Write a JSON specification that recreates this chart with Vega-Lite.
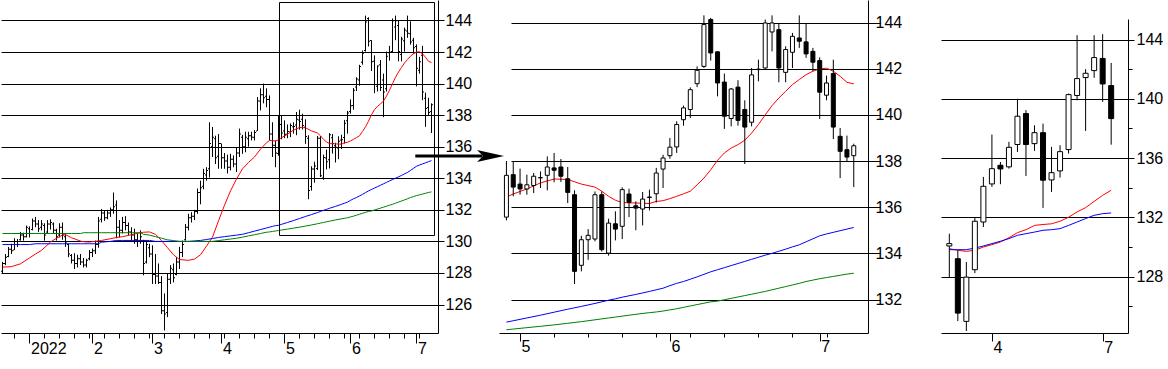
{
"$schema": "https://vega.github.io/schema/vega-lite/v6.json",
"padding": 0,
"background": "white",
"bounds": "flush",
"spacing": 61,
"config": {"view": {"stroke": null}, "axis": {"labelFont": "Liberation Sans", "labelFontSize": 16, "labelColor": "black", "domainColor": "black", "tickColor": "black", "gridColor": "black", "domainWidth": 1, "tickWidth": 1, "gridWidth": 1, "labelOverlap": false, "labelFlush": false, "labelBound": false, "tickCount": 500}},
"datasets": {
"daily": [
{"n":1,"d":"2021-12-21","o":128.1,"h":128.7,"l":127.95,"c":128.6},
{"n":2,"d":"2021-12-22","o":128.6,"h":129.2,"l":128.5,"c":129.0},
{"n":3,"d":"2021-12-23","o":129.05,"h":129.65,"l":129.0,"c":129.5},
{"n":4,"d":"2021-12-24","o":129.5,"h":129.85,"l":129.2,"c":129.4},
{"n":5,"d":"2021-12-27","o":129.45,"h":130.2,"l":129.45,"c":130.0},
{"n":6,"d":"2021-12-28","o":130.0,"h":130.15,"l":129.65,"c":129.8},
{"n":7,"d":"2021-12-29","o":130.1,"h":130.6,"l":130.05,"c":130.4},
{"n":8,"d":"2021-12-30","o":130.4,"h":130.55,"l":130.05,"c":130.3},
{"n":9,"d":"2021-12-31","o":130.3,"h":131.0,"l":130.25,"c":130.9},
{"n":10,"d":"2022-01-03","o":130.8,"h":130.95,"l":130.25,"c":130.5},
{"n":11,"d":"2022-01-04","o":130.75,"h":131.45,"l":130.7,"c":131.3},
{"n":12,"d":"2022-01-05","o":131.3,"h":131.55,"l":130.9,"c":131.1},
{"n":13,"d":"2022-01-06","o":131.1,"h":131.35,"l":130.6,"c":130.8},
{"n":14,"d":"2022-01-07","o":130.9,"h":131.35,"l":130.7,"c":131.1},
{"n":15,"d":"2022-01-10","o":131.0,"h":131.15,"l":130.05,"c":130.4},
{"n":16,"d":"2022-01-11","o":130.6,"h":131.35,"l":130.5,"c":131.1},
{"n":17,"d":"2022-01-12","o":131.1,"h":131.4,"l":130.75,"c":131.2},
{"n":18,"d":"2022-01-13","o":131.1,"h":131.2,"l":130.5,"c":130.7},
{"n":19,"d":"2022-01-14","o":130.7,"h":130.8,"l":130.05,"c":130.3},
{"n":20,"d":"2022-01-17","o":130.4,"h":131.15,"l":130.25,"c":130.9},
{"n":21,"d":"2022-01-18","o":130.9,"h":131.2,"l":130.1,"c":130.4},
{"n":22,"d":"2022-01-19","o":130.3,"h":130.5,"l":129.65,"c":129.9},
{"n":23,"d":"2022-01-20","o":129.8,"h":129.85,"l":129.0,"c":129.2},
{"n":24,"d":"2022-01-21","o":129.1,"h":129.2,"l":128.6,"c":128.8},
{"n":25,"d":"2022-01-24","o":128.8,"h":129.25,"l":128.25,"c":128.6},
{"n":26,"d":"2022-01-25","o":128.6,"h":129.15,"l":128.35,"c":128.9},
{"n":27,"d":"2022-01-26","o":128.9,"h":129.2,"l":128.5,"c":128.7},
{"n":28,"d":"2022-01-27","o":128.7,"h":128.95,"l":128.35,"c":128.5},
{"n":29,"d":"2022-01-28","o":128.5,"h":128.9,"l":128.35,"c":128.8},
{"n":30,"d":"2022-01-31","o":128.9,"h":129.45,"l":128.8,"c":129.3},
{"n":31,"d":"2022-02-01","o":129.3,"h":129.55,"l":129.0,"c":129.4},
{"n":32,"d":"2022-02-02","o":129.4,"h":130.05,"l":129.2,"c":129.8},
{"n":33,"d":"2022-02-03","o":129.8,"h":131.55,"l":129.6,"c":131.3},
{"n":34,"d":"2022-02-04","o":131.4,"h":132.05,"l":131.2,"c":131.8},
{"n":35,"d":"2022-02-07","o":131.8,"h":131.95,"l":131.3,"c":131.5},
{"n":36,"d":"2022-02-08","o":131.5,"h":132.0,"l":131.4,"c":131.8},
{"n":37,"d":"2022-02-09","o":131.8,"h":132.15,"l":131.55,"c":132.0},
{"n":38,"d":"2022-02-10","o":132.0,"h":133.1,"l":131.75,"c":132.2},
{"n":39,"d":"2022-02-11","o":132.3,"h":132.6,"l":130.2,"c":130.9},
{"n":40,"d":"2022-02-14","o":130.9,"h":131.35,"l":130.25,"c":130.7},
{"n":41,"d":"2022-02-15","o":130.7,"h":131.55,"l":130.5,"c":131.2},
{"n":42,"d":"2022-02-16","o":131.2,"h":131.6,"l":130.7,"c":131.0},
{"n":43,"d":"2022-02-17","o":131.0,"h":131.2,"l":130.4,"c":130.6},
{"n":44,"d":"2022-02-18","o":130.6,"h":130.9,"l":130.05,"c":130.4},
{"n":45,"d":"2022-02-21","o":130.4,"h":130.8,"l":129.85,"c":130.1},
{"n":46,"d":"2022-02-22","o":130.1,"h":130.5,"l":129.65,"c":130.0},
{"n":47,"d":"2022-02-23","o":130.0,"h":130.7,"l":129.85,"c":130.3},
{"n":48,"d":"2022-02-24","o":130.0,"h":130.1,"l":127.85,"c":128.6},
{"n":49,"d":"2022-02-25","o":128.7,"h":130.05,"l":128.6,"c":129.8},
{"n":50,"d":"2022-02-28","o":129.6,"h":129.85,"l":129.0,"c":129.2},
{"n":51,"d":"2022-03-01","o":129.2,"h":129.75,"l":127.3,"c":127.9},
{"n":52,"d":"2022-03-02","o":127.9,"h":129.2,"l":127.3,"c":127.8},
{"n":53,"d":"2022-03-03","o":127.8,"h":128.6,"l":127.3,"c":127.4},
{"n":54,"d":"2022-03-04","o":127.4,"h":127.8,"l":125.4,"c":125.6},
{"n":55,"d":"2022-03-07","o":125.6,"h":126.7,"l":124.35,"c":125.4},
{"n":56,"d":"2022-03-08","o":125.5,"h":127.95,"l":125.2,"c":127.6},
{"n":57,"d":"2022-03-09","o":127.6,"h":128.5,"l":127.3,"c":128.3},
{"n":58,"d":"2022-03-10","o":128.2,"h":128.6,"l":127.4,"c":127.7},
{"n":59,"d":"2022-03-11","o":127.9,"h":129.0,"l":127.85,"c":128.7},
{"n":60,"d":"2022-03-14","o":128.7,"h":129.65,"l":128.25,"c":129.3},
{"n":61,"d":"2022-03-15","o":129.3,"h":130.05,"l":129.0,"c":129.8},
{"n":62,"d":"2022-03-16","o":130.1,"h":131.1,"l":130.05,"c":130.9},
{"n":63,"d":"2022-03-17","o":130.9,"h":131.75,"l":130.7,"c":131.5},
{"n":64,"d":"2022-03-18","o":131.5,"h":131.85,"l":131.2,"c":131.6},
{"n":65,"d":"2022-03-21","o":131.6,"h":132.0,"l":131.35,"c":131.9},
{"n":66,"d":"2022-03-22","o":131.9,"h":133.35,"l":131.75,"c":133.1},
{"n":67,"d":"2022-03-23","o":133.1,"h":133.85,"l":132.35,"c":133.4},
{"n":68,"d":"2022-03-24","o":133.5,"h":134.6,"l":133.3,"c":134.3},
{"n":69,"d":"2022-03-25","o":134.2,"h":134.7,"l":133.85,"c":134.5},
{"n":70,"d":"2022-03-28","o":134.6,"h":137.55,"l":134.05,"c":136.2},
{"n":71,"d":"2022-03-29","o":136.0,"h":137.25,"l":135.35,"c":136.6},
{"n":72,"d":"2022-03-30","o":136.5,"h":136.7,"l":134.9,"c":135.3},
{"n":73,"d":"2022-03-31","o":135.4,"h":136.8,"l":134.6,"c":136.2},
{"n":74,"d":"2022-04-01","o":136.2,"h":136.2,"l":134.6,"c":135.3},
{"n":75,"d":"2022-04-04","o":135.3,"h":135.6,"l":134.6,"c":135.1},
{"n":76,"d":"2022-04-05","o":135.1,"h":135.5,"l":134.3,"c":134.7},
{"n":77,"d":"2022-04-06","o":134.7,"h":135.55,"l":134.5,"c":135.2},
{"n":78,"d":"2022-04-07","o":135.2,"h":135.45,"l":134.7,"c":134.9},
{"n":79,"d":"2022-04-08","o":134.9,"h":135.95,"l":134.4,"c":135.6},
{"n":80,"d":"2022-04-11","o":135.6,"h":137.15,"l":135.35,"c":136.8},
{"n":81,"d":"2022-04-12","o":136.6,"h":136.75,"l":135.55,"c":136.0},
{"n":82,"d":"2022-04-13","o":136.0,"h":136.95,"l":135.65,"c":136.6},
{"n":83,"d":"2022-04-14","o":136.5,"h":136.95,"l":136.0,"c":136.7},
{"n":84,"d":"2022-04-15","o":136.7,"h":136.95,"l":136.4,"c":136.6},
{"n":85,"d":"2022-04-18","o":136.6,"h":137.05,"l":136.4,"c":136.9},
{"n":86,"d":"2022-04-19","o":137.0,"h":139.15,"l":137.0,"c":138.9},
{"n":87,"d":"2022-04-20","o":138.9,"h":139.7,"l":138.3,"c":139.3},
{"n":88,"d":"2022-04-21","o":139.3,"h":140.0,"l":138.75,"c":139.1},
{"n":89,"d":"2022-04-22","o":139.2,"h":139.7,"l":138.5,"c":139.0},
{"n":90,"d":"2022-04-25","o":139.0,"h":139.25,"l":136.4,"c":136.8},
{"n":91,"d":"2022-04-26","o":136.8,"h":137.55,"l":135.35,"c":136.1},
{"n":92,"d":"2022-04-27","o":136.1,"h":136.4,"l":134.7,"c":135.6},
{"n":93,"d":"2022-04-28","o":135.57,"h":138.0,"l":135.43,"c":137.38},
{"n":94,"d":"2022-04-29","o":137.41,"h":138.0,"l":136.47,"c":136.87},
{"n":95,"d":"2022-05-02","o":137.0,"h":137.67,"l":136.54,"c":136.79},
{"n":96,"d":"2022-05-03","o":136.79,"h":137.41,"l":136.54,"c":136.97},
{"n":97,"d":"2022-05-04","o":136.94,"h":137.48,"l":136.61,"c":137.34},
{"n":98,"d":"2022-05-05","o":137.27,"h":137.55,"l":136.83,"c":137.28},
{"n":99,"d":"2022-05-06","o":137.38,"h":138.2,"l":136.73,"c":137.74},
{"n":100,"d":"2022-05-09","o":137.7,"h":138.35,"l":137.08,"c":137.6},
{"n":101,"d":"2022-05-10","o":137.74,"h":138.09,"l":137.09,"c":137.34},
{"n":102,"d":"2022-05-11","o":137.23,"h":137.74,"l":136.18,"c":136.64},
{"n":103,"d":"2022-05-12","o":136.54,"h":136.73,"l":132.67,"c":133.22},
{"n":104,"d":"2022-05-13","o":133.48,"h":134.76,"l":133.22,"c":134.59},
{"n":105,"d":"2022-05-16","o":134.59,"h":135.05,"l":133.72,"c":134.78},
{"n":106,"d":"2022-05-17","o":134.62,"h":136.68,"l":134.52,"c":136.54},
{"n":107,"d":"2022-05-18","o":136.54,"h":136.68,"l":134.08,"c":134.16},
{"n":108,"d":"2022-05-19","o":134.01,"h":135.5,"l":133.9,"c":135.31},
{"n":109,"d":"2022-05-20","o":135.28,"h":135.82,"l":134.56,"c":135.05},
{"n":110,"d":"2022-05-23","o":135.17,"h":136.86,"l":134.62,"c":136.76},
{"n":111,"d":"2022-05-24","o":136.57,"h":136.8,"l":135.57,"c":136.21},
{"n":112,"d":"2022-05-25","o":136.06,"h":136.25,"l":135.0,"c":135.96},
{"n":113,"d":"2022-05-26","o":135.92,"h":136.66,"l":135.21,"c":136.35},
{"n":114,"d":"2022-05-27","o":136.42,"h":136.76,"l":135.86,"c":136.44},
{"n":115,"d":"2022-05-30","o":136.58,"h":137.7,"l":136.2,"c":137.48},
{"n":116,"d":"2022-05-31","o":137.65,"h":138.27,"l":136.83,"c":138.13},
{"n":117,"d":"2022-06-01","o":138.23,"h":139.0,"l":138.1,"c":138.6},
{"n":118,"d":"2022-06-02","o":138.61,"h":139.72,"l":138.35,"c":139.58},
{"n":119,"d":"2022-06-03","o":139.79,"h":140.4,"l":139.53,"c":140.3},
{"n":120,"d":"2022-06-06","o":140.23,"h":141.19,"l":139.86,"c":141.09},
{"n":121,"d":"2022-06-07","o":141.35,"h":142.1,"l":141.2,"c":141.93},
{"n":122,"d":"2022-06-08","o":142.1,"h":144.31,"l":142.03,"c":143.91},
{"n":123,"d":"2022-06-09","o":144.13,"h":144.2,"l":142.35,"c":142.68},
{"n":124,"d":"2022-06-10","o":142.73,"h":142.75,"l":140.8,"c":141.38},
{"n":125,"d":"2022-06-13","o":141.42,"h":141.79,"l":139.39,"c":139.94},
{"n":126,"d":"2022-06-14","o":139.84,"h":141.16,"l":139.5,"c":141.12},
{"n":127,"d":"2022-06-15","o":141.2,"h":141.5,"l":139.53,"c":139.76},
{"n":128,"d":"2022-06-16","o":140.23,"h":140.63,"l":137.87,"c":139.47},
{"n":129,"d":"2022-06-17","o":139.68,"h":142.03,"l":139.5,"c":141.73},
{"n":130,"d":"2022-06-20","o":141.96,"h":142.39,"l":141.45,"c":141.98},
{"n":131,"d":"2022-06-21","o":142.03,"h":144.13,"l":141.96,"c":143.98},
{"n":132,"d":"2022-06-22","o":143.59,"h":144.31,"l":142.75,"c":143.98},
{"n":133,"d":"2022-06-23","o":143.69,"h":143.98,"l":141.41,"c":142.03},
{"n":134,"d":"2022-06-24","o":141.84,"h":142.97,"l":141.41,"c":142.83},
{"n":135,"d":"2022-06-27","o":142.71,"h":143.55,"l":142.03,"c":143.4},
{"n":136,"d":"2022-06-28","o":143.33,"h":144.31,"l":142.9,"c":143.19},
{"n":137,"d":"2022-06-29","o":143.16,"h":143.95,"l":142.47,"c":142.64},
{"n":138,"d":"2022-06-30","o":142.75,"h":142.9,"l":141.89,"c":142.28},
{"n":139,"d":"2022-07-01","o":142.35,"h":142.49,"l":139.82,"c":140.98},
{"n":140,"d":"2022-07-04","o":140.85,"h":141.7,"l":140.63,"c":141.38},
{"n":141,"d":"2022-07-05","o":141.79,"h":142.39,"l":138.95,"c":139.47},
{"n":142,"d":"2022-07-06","o":139.07,"h":139.43,"l":137.26,"c":138.42},
{"n":143,"d":"2022-07-07","o":138.49,"h":139.1,"l":137.99,"c":138.17},
{"n":144,"d":"2022-07-08","o":138.23,"h":138.75,"l":136.87,"c":138.66}
],
"ma": [
{"n":1,"r":128.37,"b":129.8,"g":130.5},
{"n":4,"r":128.4,"b":129.8,"g":130.5},
{"n":7,"r":128.58,"b":129.8,"g":130.5},
{"n":10,"r":128.95,"b":129.8,"g":130.5},
{"n":12,"r":129.2,"b":129.85,"g":130.5},
{"n":14,"r":129.43,"b":129.85,"g":130.5},
{"n":17,"r":129.96,"b":129.85,"g":130.5},
{"n":19,"r":130.2,"b":129.85,"g":130.5},
{"n":21,"r":130.4,"b":129.85,"g":130.5},
{"n":22,"r":130.43,"b":129.85,"g":130.5},
{"n":24,"r":130.23,"b":129.85,"g":130.5},
{"n":27,"r":130.02,"b":129.85,"g":130.5},
{"n":28,"r":129.98,"b":129.85,"g":130.55},
{"n":30,"r":129.96,"b":129.85,"g":130.55},
{"n":33,"r":130.03,"b":129.85,"g":130.55},
{"n":34,"r":130.06,"b":129.95,"g":130.55},
{"n":37,"r":130.17,"b":130.0,"g":130.55},
{"n":39,"r":130.25,"b":130.06,"g":130.55},
{"n":41,"r":130.3,"b":130.06,"g":130.55},
{"n":44,"r":130.42,"b":130.06,"g":130.55},
{"n":47,"r":130.55,"b":130.06,"g":130.55},
{"n":48,"r":130.58,"b":130.06,"g":130.45},
{"n":50,"r":130.6,"b":130.06,"g":130.4},
{"n":52,"r":130.45,"b":130.0,"g":130.3},
{"n":54,"r":130.05,"b":130.0,"g":130.2},
{"n":56,"r":129.6,"b":130.0,"g":130.1},
{"n":58,"r":129.15,"b":130.0,"g":130.05},
{"n":60,"r":128.85,"b":130.0,"g":130.0},
{"n":63,"r":128.8,"b":130.0,"g":130.0},
{"n":65,"r":128.88,"b":130.03,"g":130.0},
{"n":67,"r":129.15,"b":130.06,"g":130.0},
{"n":69,"r":129.7,"b":130.12,"g":130.0},
{"n":71,"r":130.27,"b":130.18,"g":130.0},
{"n":73,"r":131.3,"b":130.25,"g":130.05},
{"n":75,"r":132.3,"b":130.3,"g":130.1},
{"n":77,"r":133.2,"b":130.35,"g":130.15},
{"n":79,"r":133.95,"b":130.4,"g":130.2},
{"n":81,"r":134.6,"b":130.45,"g":130.27},
{"n":83,"r":135.0,"b":130.55,"g":130.35},
{"n":85,"r":135.35,"b":130.65,"g":130.42},
{"n":87,"r":135.85,"b":130.75,"g":130.5},
{"n":89,"r":136.25,"b":130.85,"g":130.58},
{"n":90,"r":136.4,"b":130.9,"g":130.6},
{"n":91,"r":136.38,"b":130.95,"g":130.63},
{"n":92,"r":136.36,"b":131.0,"g":130.66},
{"n":93,"r":136.44,"b":131.02,"g":130.69},
{"n":94,"r":136.57,"b":131.08,"g":130.72},
{"n":96,"r":136.79,"b":131.2,"g":130.78},
{"n":98,"r":137.05,"b":131.32,"g":130.84},
{"n":100,"r":137.22,"b":131.45,"g":130.9},
{"n":102,"r":137.2,"b":131.58,"g":130.97},
{"n":104,"r":137.0,"b":131.7,"g":131.04},
{"n":106,"r":136.87,"b":131.83,"g":131.12},
{"n":107,"r":136.69,"b":131.9,"g":131.16},
{"n":108,"r":136.47,"b":131.97,"g":131.2},
{"n":109,"r":136.3,"b":132.03,"g":131.24},
{"n":110,"r":136.2,"b":132.1,"g":131.28},
{"n":112,"r":136.18,"b":132.22,"g":131.36},
{"n":114,"r":136.16,"b":132.35,"g":131.43},
{"n":115,"r":136.25,"b":132.42,"g":131.46},
{"n":116,"r":136.28,"b":132.49,"g":131.5},
{"n":117,"r":136.37,"b":132.6,"g":131.55},
{"n":118,"r":136.47,"b":132.7,"g":131.6},
{"n":119,"r":136.58,"b":132.78,"g":131.66},
{"n":120,"r":136.69,"b":132.88,"g":131.72},
{"n":121,"r":136.97,"b":132.98,"g":131.78},
{"n":122,"r":137.26,"b":133.09,"g":131.84},
{"n":123,"r":137.62,"b":133.2,"g":131.9},
{"n":124,"r":138.03,"b":133.29,"g":131.93},
{"n":125,"r":138.35,"b":133.38,"g":131.99},
{"n":126,"r":138.56,"b":133.47,"g":132.05},
{"n":127,"r":138.71,"b":133.56,"g":132.11},
{"n":128,"r":138.9,"b":133.65,"g":132.17},
{"n":129,"r":139.21,"b":133.74,"g":132.23},
{"n":130,"r":139.58,"b":133.83,"g":132.29},
{"n":131,"r":140.0,"b":133.92,"g":132.35},
{"n":132,"r":140.4,"b":134.0,"g":132.42},
{"n":133,"r":140.73,"b":134.09,"g":132.49},
{"n":134,"r":141.02,"b":134.18,"g":132.56},
{"n":135,"r":141.31,"b":134.28,"g":132.63},
{"n":136,"r":141.53,"b":134.37,"g":132.7},
{"n":137,"r":141.74,"b":134.5,"g":132.78},
{"n":138,"r":141.89,"b":134.63,"g":132.84},
{"n":139,"r":141.99,"b":134.76,"g":132.9},
{"n":140,"r":142.02,"b":134.84,"g":132.95},
{"n":141,"r":141.89,"b":134.91,"g":133.0},
{"n":142,"r":141.67,"b":134.98,"g":133.05},
{"n":143,"r":141.41,"b":135.05,"g":133.1},
{"n":144,"r":141.34,"b":135.12,"g":133.14}
],
"weekly": [
{"w":1,"d":"2022-02-21","o":130.06,"h":130.89,"l":127.92,"c":130.22,"r":129.88,"b":129.81},
{"w":2,"d":"2022-02-28","o":129.2,"h":129.77,"l":124.99,"c":125.53,"r":129.77,"b":129.81},
{"w":3,"d":"2022-03-07","o":124.97,"h":128.98,"l":124.32,"c":127.96,"r":129.7,"b":129.81},
{"w":4,"d":"2022-03-14","o":128.46,"h":131.97,"l":128.23,"c":131.73,"r":129.77,"b":129.92},
{"w":5,"d":"2022-03-21","o":131.68,"h":134.72,"l":131.34,"c":134.09,"r":129.99,"b":130.06},
{"w":6,"d":"2022-03-28","o":134.25,"h":137.58,"l":134.05,"c":135.28,"r":130.15,"b":130.22},
{"w":7,"d":"2022-04-04","o":135.51,"h":135.73,"l":134.23,"c":135.26,"r":130.33,"b":130.38},
{"w":8,"d":"2022-04-11","o":135.4,"h":137.09,"l":135.28,"c":136.72,"r":130.62,"b":130.56},
{"w":9,"d":"2022-04-18","o":136.91,"h":140.0,"l":136.41,"c":138.82,"r":130.96,"b":130.78},
{"w":10,"d":"2022-04-25","o":139.0,"h":139.23,"l":134.79,"c":136.91,"r":131.16,"b":130.89},
{"w":11,"d":"2022-05-02","o":136.97,"h":138.21,"l":136.48,"c":137.71,"r":131.45,"b":131.0},
{"w":12,"d":"2022-05-09","o":137.71,"h":138.32,"l":132.63,"c":134.5,"r":131.51,"b":131.12},
{"w":13,"d":"2022-05-16","o":134.52,"h":136.75,"l":133.71,"c":135.01,"r":131.56,"b":131.16},
{"w":14,"d":"2022-05-23","o":135.13,"h":136.86,"l":134.68,"c":136.43,"r":131.73,"b":131.23},
{"w":15,"d":"2022-05-30","o":136.57,"h":140.35,"l":136.3,"c":140.28,"r":132.0,"b":131.45},
{"w":16,"d":"2022-06-06","o":140.22,"h":144.29,"l":139.9,"c":141.36,"r":132.36,"b":131.68},
{"w":17,"d":"2022-06-13","o":141.43,"h":142.0,"l":137.83,"c":141.72,"r":132.65,"b":131.91},
{"w":18,"d":"2022-06-20","o":141.9,"h":144.29,"l":141.41,"c":142.78,"r":133.07,"b":132.13},
{"w":19,"d":"2022-06-27","o":142.72,"h":144.36,"l":139.79,"c":141.0,"r":133.48,"b":132.24},
{"w":20,"d":"2022-07-04","o":140.89,"h":142.42,"l":136.9,"c":138.66,"r":133.82,"b":132.29}
],
"box": [{"from":93.33,"to":145.0,"low":130.373,"high":145.14}],
"arrow": [{"from":138.6,"to":161.0,"tip":163.67,"at":135.41}]
},
"hconcat": [
{
"width": 437, "height": 333,
"layer": [
{"data": {"name": "daily"}, "mark": {"type": "rule", "color": "black", "strokeWidth": 1},
 "encoding": {
  "x": {"field": "n", "type": "quantitative", "scale": {"domain": [0.5, 146.1667], "nice": false, "zero": false},
   "axis": {"title": null, "orient": "bottom", "grid": false, "tickCount": 500,
    "values": [5,10,15,20,25,30,31,35,40,45,50,51,55,60,65,70,74,75,80,85,90,95,100,105,110,115,117,120,125,130,135,139,140],
    "labelExpr": "datum.value == 10 ? '2022' : datum.value == 31 ? '2' : datum.value == 51 ? '3' : datum.value == 74 ? '4' : datum.value == 95 ? '5' : datum.value == 117 ? '6' : datum.value == 139 ? '7' : ''",
    "tickSize": {"condition": {"test": "indexof([10,31,51,74,95,117,139], datum.value) >= 0", "value": 10}, "value": 5},
    "labelAlign": "left", "labelOffset": 1, "labelPadding": -3, "labelBaseline": "top"}},
  "y": {"field": "l", "type": "quantitative", "scale": {"domain": [124.194, 145.299], "nice": false, "zero": false},
   "axis": {"title": null, "orient": "right", "grid": true, "tickCount": 500, "format": "d", "values": [126,128,130,132,134,136,138,140,142,144], "tickSize": 6, "labelPadding": 1, "labelBaseline": "middle"}},
  "y2": {"field": "h"}
 }},
{"data": {"name": "daily"}, "mark": {"type": "tick", "orient": "horizontal", "size": 1, "thickness": 1, "xOffset": -1, "color": "black", "opacity": 1},
 "encoding": {
  "x": {"field": "n", "type": "quantitative", "scale": {"domain": [0.5, 146.1667], "nice": false, "zero": false}},
  "y": {"field": "o", "type": "quantitative", "scale": {"domain": [124.194, 145.299], "nice": false, "zero": false}}
 }},
{"data": {"name": "daily"}, "mark": {"type": "tick", "orient": "horizontal", "size": 1, "thickness": 1, "xOffset": 1, "color": "black", "opacity": 1},
 "encoding": {
  "x": {"field": "n", "type": "quantitative", "scale": {"domain": [0.5, 146.1667], "nice": false, "zero": false}},
  "y": {"field": "c", "type": "quantitative", "scale": {"domain": [124.194, 145.299], "nice": false, "zero": false}}
 }},
{"data": {"name": "ma"}, "mark": {"type": "line", "color": "#ff0000", "strokeWidth": 1},
 "encoding": {
  "x": {"field": "n", "type": "quantitative", "scale": {"domain": [0.5, 146.1667], "nice": false, "zero": false}},
  "y": {"field": "r", "type": "quantitative", "scale": {"domain": [124.194, 145.299], "nice": false, "zero": false}}
 }},
{"data": {"name": "ma"}, "mark": {"type": "line", "color": "#0000ff", "strokeWidth": 1},
 "encoding": {
  "x": {"field": "n", "type": "quantitative", "scale": {"domain": [0.5, 146.1667], "nice": false, "zero": false}},
  "y": {"field": "b", "type": "quantitative", "scale": {"domain": [124.194, 145.299], "nice": false, "zero": false}}
 }},
{"data": {"name": "ma"}, "mark": {"type": "line", "color": "#008000", "strokeWidth": 1},
 "encoding": {
  "x": {"field": "n", "type": "quantitative", "scale": {"domain": [0.5, 146.1667], "nice": false, "zero": false}},
  "y": {"field": "g", "type": "quantitative", "scale": {"domain": [124.194, 145.299], "nice": false, "zero": false}}
 }},
{"data": {"name": "box"}, "mark": {"type": "rect", "fillOpacity": 0, "stroke": "black", "strokeWidth": 1},
 "encoding": {
  "x": {"field": "from", "type": "quantitative", "scale": {"domain": [0.5, 146.1667], "nice": false, "zero": false}},
  "x2": {"field": "to"},
  "y": {"field": "low", "type": "quantitative", "scale": {"domain": [124.194, 145.299], "nice": false, "zero": false}},
  "y2": {"field": "high"}
 }},
{"data": {"name": "arrow"}, "mark": {"type": "rule", "color": "black", "strokeWidth": 3},
 "encoding": {
  "x": {"field": "from", "type": "quantitative", "scale": {"domain": [0.5, 146.1667], "nice": false, "zero": false}},
  "x2": {"field": "to"},
  "y": {"field": "at", "type": "quantitative", "scale": {"domain": [124.194, 145.299], "nice": false, "zero": false}}
 }},
{"data": {"name": "arrow"}, "mark": {"type": "point", "shape": "M -1 -0.44 L 1 0 L -1 0.44 L -0.55 0 Z", "size": 729, "filled": true, "color": "black", "opacity": 1},
 "encoding": {
  "x": {"field": "tip", "type": "quantitative", "scale": {"domain": [0.5, 146.1667], "nice": false, "zero": false}},
  "y": {"field": "at", "type": "quantitative", "scale": {"domain": [124.194, 145.299], "nice": false, "zero": false}}
 }}
]
},
{
"width": 381, "height": 333,
"layer": [
{"data": {"name": "ma"}, "transform": [{"filter": "datum.n >= 93"}], "mark": {"type": "line", "color": "#ff0000", "strokeWidth": 1},
 "encoding": {
  "x": {"field": "n", "type": "quantitative", "scale": {"domain": [92.643, 145.357], "range": [0, 369], "nice": false, "zero": false},
   "axis": {"title": null, "orient": "bottom", "grid": false, "tickCount": 500,
    "values": [95,100,105,110,115,117,120,125,130,135,139,140],
    "labelExpr": "datum.value == 95 ? '5' : datum.value == 117 ? '6' : datum.value == 139 ? '7' : ''",
    "tickSize": {"condition": {"test": "indexof([95,117,139], datum.value) >= 0", "value": 8}, "value": 4},
    "labelAlign": "left", "labelOffset": 1, "labelPadding": -3, "labelBaseline": "top"}},
  "y": {"field": "r", "type": "quantitative", "scale": {"domain": [130.549, 144.975], "nice": false, "zero": false},
   "axis": {"title": null, "orient": "right", "offset": -12, "grid": true, "tickCount": 500, "format": "d", "values": [132,134,136,138,140,142,144], "tickSize": 6, "labelPadding": 1, "labelBaseline": "middle"}}
 }},
{"data": {"name": "ma"}, "transform": [{"filter": "datum.n >= 93"}], "mark": {"type": "line", "color": "#0000ff", "strokeWidth": 1},
 "encoding": {
  "x": {"field": "n", "type": "quantitative", "scale": {"domain": [92.643, 145.357], "range": [0, 369], "nice": false, "zero": false}},
  "y": {"field": "b", "type": "quantitative", "scale": {"domain": [130.549, 144.975], "nice": false, "zero": false}}
 }},
{"data": {"name": "ma"}, "transform": [{"filter": "datum.n >= 93"}], "mark": {"type": "line", "color": "#008000", "strokeWidth": 1},
 "encoding": {
  "x": {"field": "n", "type": "quantitative", "scale": {"domain": [92.643, 145.357], "range": [0, 369], "nice": false, "zero": false}},
  "y": {"field": "g", "type": "quantitative", "scale": {"domain": [130.549, 144.975], "nice": false, "zero": false}}
 }},
{"data": {"name": "daily"}, "transform": [{"filter": "datum.n >= 93"}], "mark": {"type": "rule", "color": "black", "strokeWidth": 1},
 "encoding": {
  "x": {"field": "n", "type": "quantitative", "scale": {"domain": [92.643, 145.357], "range": [0, 369], "nice": false, "zero": false}},
  "y": {"field": "l", "type": "quantitative", "scale": {"domain": [130.549, 144.975], "nice": false, "zero": false}},
  "y2": {"field": "h"}
 }},
{"data": {"name": "daily"}, "transform": [{"filter": "datum.n >= 93"}], "mark": {"type": "bar", "width": 4, "stroke": "black", "strokeWidth": 1},
 "encoding": {
  "x": {"field": "n", "type": "quantitative", "scale": {"domain": [92.643, 145.357], "range": [0, 369], "nice": false, "zero": false}},
  "y": {"field": "o", "type": "quantitative", "scale": {"domain": [130.549, 144.975], "nice": false, "zero": false}},
  "y2": {"field": "c"},
  "fill": {"condition": {"test": "datum.c < datum.o", "value": "black"}, "value": "white"}
 }}
]
},
{
"width": 187, "height": 333,
"layer": [
{"data": {"name": "weekly"}, "mark": {"type": "line", "color": "#ff0000", "strokeWidth": 1},
 "encoding": {
  "x": {"field": "w", "type": "quantitative", "scale": {"domain": [0.6111, 21.389], "nice": false, "zero": false},
   "axis": {"title": null, "orient": "bottom", "grid": false, "tickCount": 500, "values": [6, 19],
    "labelExpr": "datum.value == 6 ? '4' : '7'", "tickSize": 8, "labelAlign": "left", "labelOffset": 1, "labelPadding": -2, "labelBaseline": "top"}},
  "y": {"field": "r", "type": "quantitative", "scale": {"domain": [124.186, 145.384], "range": [333, 19], "nice": false, "zero": false},
   "axis": {"title": null, "orient": "right", "grid": true, "tickCount": 500, "format": "d", "values": [126,128,130,132,134,136,138,140,142,144],
    "labelExpr": "datum.value % 4 == 0 ? datum.label : ''",
    "tickSize": {"condition": {"test": "datum.value % 4 == 0", "value": 6}, "value": 4},
    "gridOpacity": {"condition": {"test": "datum.value % 4 == 0", "value": 1}, "value": 0},
    "labelPadding": 2, "labelBaseline": "middle"}}
 }},
{"data": {"name": "weekly"}, "mark": {"type": "line", "color": "#0000ff", "strokeWidth": 1},
 "encoding": {
  "x": {"field": "w", "type": "quantitative", "scale": {"domain": [0.6111, 21.389], "nice": false, "zero": false}},
  "y": {"field": "b", "type": "quantitative", "scale": {"domain": [124.186, 145.384], "range": [333, 19], "nice": false, "zero": false}}
 }},
{"data": {"name": "weekly"}, "mark": {"type": "rule", "color": "black", "strokeWidth": 1},
 "encoding": {
  "x": {"field": "w", "type": "quantitative", "scale": {"domain": [0.6111, 21.389], "nice": false, "zero": false}},
  "y": {"field": "l", "type": "quantitative", "scale": {"domain": [124.186, 145.384], "range": [333, 19], "nice": false, "zero": false}},
  "y2": {"field": "h"}
 }},
{"data": {"name": "weekly"}, "mark": {"type": "bar", "width": 5, "stroke": "black", "strokeWidth": 1},
 "encoding": {
  "x": {"field": "w", "type": "quantitative", "scale": {"domain": [0.6111, 21.389], "nice": false, "zero": false}},
  "y": {"field": "o", "type": "quantitative", "scale": {"domain": [124.186, 145.384], "range": [333, 19], "nice": false, "zero": false}},
  "y2": {"field": "c"},
  "fill": {"condition": {"test": "datum.c < datum.o", "value": "black"}, "value": "white"}
 }}
]
}
]
}
